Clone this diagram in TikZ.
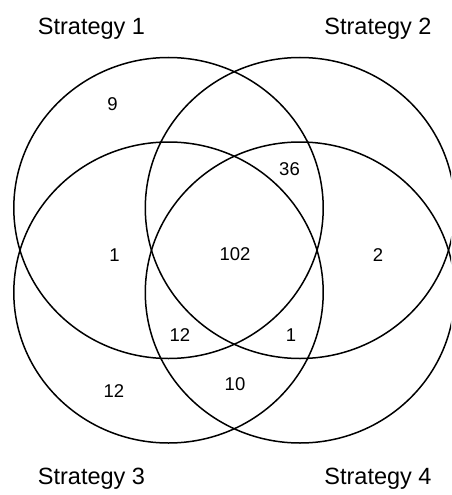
\documentclass[tikz,border=0pt]{standalone}
\usepackage{fontspec}
\setmainfont{Liberation Sans}
\begin{document}
\begin{tikzpicture}[x=1pt,y=-1pt,
  setline/.style={line width=1.5pt, black},
  title/.style={font=\fontsize{23.5}{28}\selectfont, anchor=base, inner sep=0pt},
  count/.style={font=\fontsize{18.5}{22}\selectfont, anchor=base, inner sep=0pt}]
\useasboundingbox (0,0) rectangle (451,495);
\clip (0,0) rectangle (451,495);
\fill[white] (0,0) rectangle (451,495);
% sets
\draw[setline] (168.5,208) ellipse [x radius=154.7pt, y radius=150.5pt];
\draw[setline] (300,208) ellipse [x radius=154.7pt, y radius=150.5pt];
\draw[setline] (168.5,292.5) ellipse [x radius=154.7pt, y radius=150.5pt];
\draw[setline] (300,292.5) ellipse [x radius=154.7pt, y radius=150.5pt];
% titles
\node[title] (s1) at (91.5,34.3) {Strategy 1};
\node[title] (s2) at (378,34.3) {Strategy 2};
\node[title] (s3) at (91.5,484) {Strategy 3};
\node[title] (s4) at (378,484) {Strategy 4};
% counts
\node[count] (n9) at (112.5,110.7) {9};
\node[count] (n36) at (289.5,175) {36};
\node[count] (n1a) at (114.5,261) {1};
\node[count] (n102) at (235,260.7) {102};
\node[count] (n2) at (378,261) {2};
\node[count] (n12a) at (180,341.5) {12};
\node[count] (n1b) at (291,341) {1};
\node[count] (n12b) at (114,397) {12};
\node[count] (n10) at (235,390) {10};
\end{tikzpicture}
\end{document}
